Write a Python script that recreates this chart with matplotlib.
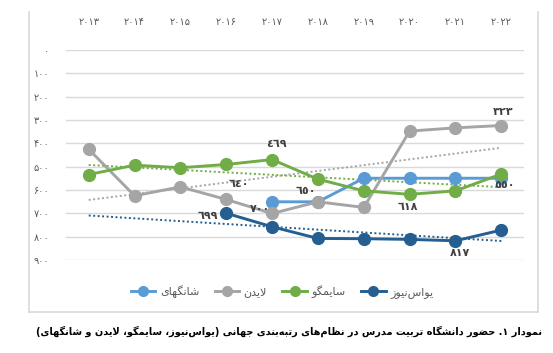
#!/usr/bin/env python
import numpy as np
import matplotlib
matplotlib.use('Agg')
import matplotlib.pyplot as plt
from matplotlib.lines import Line2D

years = ['۲۰۱۳', '۲۰۱۴', '۲۰۱۵', '۲۰۱۶', '۲۰۱۷', '۲۰۱۸', '۲۰۱۹', '۲۰۲۰', '۲۰۲۱', '۲۰۲۲']
y_ticks = [0, 100, 200, 300, 400, 500, 600, 700, 800, 900]
y_tick_labels = ['۰', '۱۰۰', '۲۰۰', '۳۰۰', '۴۰۰', '۵۰۰', '۶۰۰', '۷۰۰', '۸۰۰', '۹۰۰']

nan = np.nan
shanghai = [nan, nan, nan, nan, 650, 650, 549, 549, 549, 549]
leiden = [425, 624, 586, 640, 700, 650, 674, 347, 333, 323]
scimago = [533, 493, 504, 490, 469, 553, 603, 618, 603, 531]
usnews = [nan, nan, nan, 699, 757, 807, 808, 811, 817, 771]

series_names = ['شانگهای', 'لایدن', 'سایمگو', 'یواس‌نیوز']
caption = 'نمودار ۱. حضور دانشگاه تربیت مدرس در نظام‌های رتبه‌بندی جهانی (یواس‌نیوز، سایمگو، لایدن و شانگهای)'

# (series, year index, label text)
value_labels = [
    ('leiden', 9, '٣٢٣'),
    ('scimago', 4, '٤٦٩'),
    ('leiden', 3, '٦٤٠'),
    ('leiden', 4, '٧٠٠'),
    ('usnews', 3, '٦٩٩'),
    ('leiden', 5, '٦٥٠'),
    ('scimago', 7, '٦١٨'),
    ('usnews', 8, '٨١٧'),
    ('shanghai', 9, '٥٥٠'),
]
label_offsets = [(1, 10), (3, 11), (9, 11), (-9, 3), (-13, -2), (-9, 8), (-1, -9), (3, -9), (2, -5)]

COLORS = {'shanghai': '#5B9BD5', 'leiden': '#A5A5A5',
          'scimago': '#70AD47', 'usnews': '#255E91'}

# matplotlib has no arabic shaping, so pick presentation forms by hand
# (isolated, final, initial, medial)
FORMS = {
    'ا': ('\uFE8D', '\uFE8E', None, None),
    'ب': ('\uFE8F', '\uFE90', '\uFE91', '\uFE92'),
    'ت': ('\uFE95', '\uFE96', '\uFE97', '\uFE98'),
    'ج': ('\uFE9D', '\uFE9E', '\uFE9F', '\uFEA0'),
    'ح': ('\uFEA1', '\uFEA2', '\uFEA3', '\uFEA4'),
    'د': ('\uFEA9', '\uFEAA', None, None),
    'ر': ('\uFEAD', '\uFEAE', None, None),
    'ز': ('\uFEAF', '\uFEB0', None, None),
    'س': ('\uFEB1', '\uFEB2', '\uFEB3', '\uFEB4'),
    'ش': ('\uFEB5', '\uFEB6', '\uFEB7', '\uFEB8'),
    'ض': ('\uFEBD', '\uFEBE', '\uFEBF', '\uFEC0'),
    'ظ': ('\uFEC5', '\uFEC6', '\uFEC7', '\uFEC8'),
    'ل': ('\uFEDD', '\uFEDE', '\uFEDF', '\uFEE0'),
    'م': ('\uFEE1', '\uFEE2', '\uFEE3', '\uFEE4'),
    'ن': ('\uFEE5', '\uFEE6', '\uFEE7', '\uFEE8'),
    'ه': ('\uFEE9', '\uFEEA', '\uFEEB', '\uFEEC'),
    'و': ('\uFEED', '\uFEEE', None, None),
    'ی': ('\uFBFC', '\uFBFD', '\uFBFE', '\uFBFF'),
    'گ': ('\uFB92', '\uFB93', '\uFB94', '\uFB95'),
}
LAM_ALEF = ('\uFEFB', '\uFEFC')
MIRROR = {'(': ')', ')': '('}


def rtl(text):
    out = []
    i = 0
    while i < len(text):
        c = text[i]
        if c == '\u200c':
            i += 1
            continue
        if c not in FORMS:
            out.append(MIRROR.get(c, c))
            i += 1
            continue
        prev = text[i - 1] if i > 0 else ''
        nxt = text[i + 1] if i + 1 < len(text) else ''
        joined_prev = prev in FORMS and FORMS[prev][2] is not None
        if c == 'ل' and nxt == 'ا':
            out.append(LAM_ALEF[1 if joined_prev else 0])
            i += 2
            continue
        joined_next = FORMS[c][2] is not None and nxt in FORMS
        iso, fin, ini, med = FORMS[c]
        if joined_prev and joined_next:
            out.append(med)
        elif joined_prev:
            out.append(fin)
        elif joined_next:
            out.append(ini)
        else:
            out.append(iso)
        i += 1
    out = out[::-1]
    # digits keep left-to-right order
    res, run = [], []
    for g in out:
        if g.isdigit():
            run.append(g)
        else:
            res.extend(run[::-1])
            run = []
            res.append(g)
    res.extend(run[::-1])
    return ''.join(res)


def ranking_plot():
    data = {'shanghai': shanghai, 'leiden': leiden, 'scimago': scimago, 'usnews': usnews}
    x = np.arange(len(years))

    fig = plt.figure(figsize=(5.53, 3.53), dpi=100)
    ax = fig.add_axes([0.119, 0.263, 0.829, 0.595])

    for y in y_ticks:
        ax.axhline(y, color='#D9D9D9', lw=1, zorder=0)

    # linear trend lines
    for key in ['leiden', 'scimago', 'usnews']:
        vals = np.array(data[key], dtype=float)
        ok = ~np.isnan(vals)
        k, b = np.polyfit(x[ok], vals[ok], 1)
        ax.plot(x, k * x + b, ls=(0, (1, 1.3)), lw=1.4, color=COLORS[key], zorder=1)

    for z, key in enumerate(['shanghai', 'leiden', 'scimago', 'usnews']):
        ax.plot(x, data[key], color=COLORS[key], lw=2.1, marker='o', ms=8.5,
                mec=COLORS[key], zorder=2 + z)

    for (key, i, txt), off in zip(value_labels, label_offsets):
        ax.annotate(txt, (x[i], data[key][i]), xytext=off, textcoords='offset points',
                    ha='center', va='center', fontsize=8, fontweight='bold',
                    color='#404040', zorder=10)

    ax.set_xlim(-0.5, len(years) - 0.5)
    ax.set_ylim(900, 0)
    ax.xaxis.tick_top()
    ax.set_xticks(x)
    ax.set_xticklabels(years)
    ax.set_yticks(y_ticks)
    ax.set_yticklabels(y_tick_labels)
    ax.tick_params(axis='x', length=0, pad=17, labelsize=7, labelcolor='#595959')
    ax.tick_params(axis='y', length=0, pad=12, labelsize=7, labelcolor='#595959')
    for s in ax.spines.values():
        s.set_visible(False)

    handles = [Line2D([], [], color=COLORS[k], lw=2.1, marker='o', ms=7)
               for k in ['shanghai', 'leiden', 'scimago', 'usnews']]
    fig.legend(handles, [rtl(n) for n in series_names], loc='center',
               bbox_to_anchor=(0.51, 0.173), ncol=4, frameon=False,
               fontsize=8, labelcolor='#595959', handlelength=2.2,
               handletextpad=0.4, columnspacing=1.4)

    # chart area border
    bx0, bx1, by0, by1 = 29 / 553, 538 / 553, 1 - 312 / 353, 1 - 12 / 353
    for xs, ys in [([bx0, bx0], [by0, by1]), ([bx1, bx1], [by0, by1]), ([bx0, bx1], [by0, by0])]:
        fig.add_artist(Line2D(xs, ys, color='#D9D9D9', lw=1.2, transform=fig.transFigure))

    cap = fig.text(0.98, 0.06, rtl(caption), ha='right', va='center',
                   fontsize=8.5, fontweight='bold', color='black')
    # shrink caption to the width it has in the original (about 505 px)
    fig.canvas.draw()
    w = cap.get_window_extent().width
    cap.set_fontsize(8.5 * 505 / w)
    return fig


def main():
    plt.rcParams['font.family'] = ['DejaVu Sans']
    fig = ranking_plot()
    fig.savefig('out.png', dpi=100)


if __name__ == "__main__":
    main()
